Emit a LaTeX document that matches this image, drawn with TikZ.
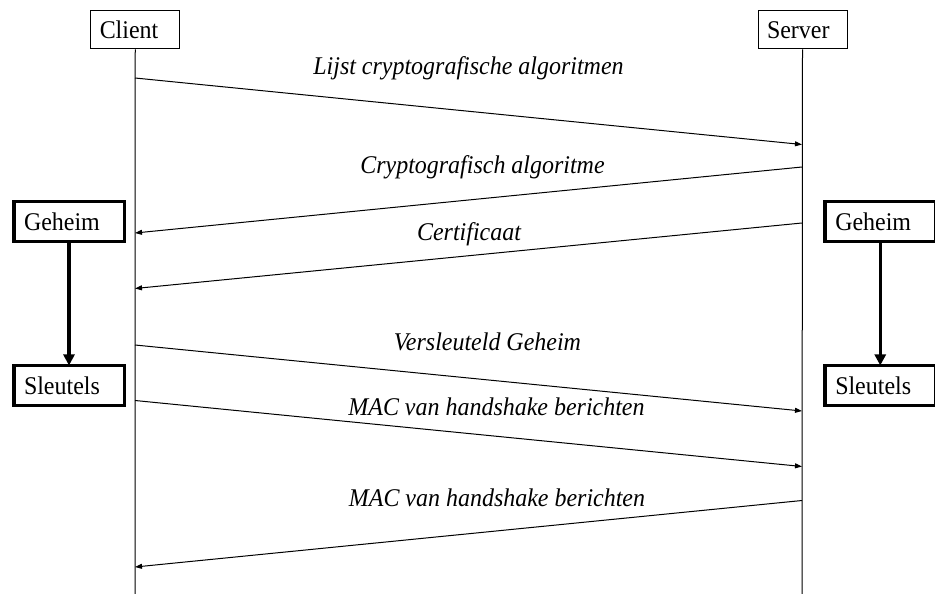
\documentclass[tikz,border=0pt]{standalone}
\usepackage{fontspec}
\setmainfont{Liberation Serif}[FakeStretch=0.94]
\usetikzlibrary{arrows.meta}
\begin{document}
\begin{tikzpicture}[x=1pt,y=-1pt,
  font=\fontsize{25.5}{30}\selectfont,
  actor/.style={draw,line width=1pt,rectangle,minimum width=89pt,minimum height=38pt,
    text width=71pt,align=left,inner xsep=9pt,inner ysep=0pt,text height=22pt,text depth=4pt},
  keybox/.style={draw,line width=3.5pt,rectangle,minimum width=110.5pt,minimum height=40pt,
    text width=90pt,align=left,inner xsep=10pt,inner ysep=0pt,text height=22pt,text depth=4pt},
  life/.style={line width=1pt},
  msg/.style={line width=1pt,-{Triangle[length=7pt,width=5pt]}},
  derive/.style={line width=3.5pt,-{Triangle[length=11pt,width=11pt]}},
  msglabel/.style={anchor=base,font=\fontsize{25.5}{30}\selectfont\itshape}
]
\useasboundingbox (0,0) rectangle (935,594);

% participants
\node[actor] (client) at (135.25,30) {Client};
\node[actor] (server) at (802.5,30) {Server};
\coordinate (clientend) at (135,594);
\coordinate (serverend) at (802,594);
\draw[life] (client.south) -- (clientend);
\draw[life] (server.south) -- (serverend);

% key derivation on both sides
\node[keybox] (gl) at (69,221.5) {Geheim};
\node[keybox] (sl) at (69,385.7) {Sleutels};
\node[keybox] (gr) at (880.25,221.5) {Geheim};
\node[keybox] (sr) at (880.25,385.7) {Sleutels};
\draw[derive] (gl.south) -- ([yshift=-1.5pt]sl.north);
\draw[derive] (gr.south) -- ([yshift=-1.5pt]sr.north);

% points on the lifelines
\coordinate (c1) at (135,78);   \coordinate (s1) at (802,144.5);
\coordinate (s2) at (802,167);  \coordinate (c2) at (135,233);
\coordinate (s3) at (802,223);  \coordinate (c3) at (135,288.5);
\coordinate (c4) at (135,345);  \coordinate (s4) at (802,411);
\coordinate (c5) at (135,400.5);\coordinate (s5) at (802,466.5);
\coordinate (s6) at (802,500.5);\coordinate (c6) at (135,567);

% messages
\draw[msg] (c1) -- (s1);
\draw[msg] (s2) -- (c2);
\draw[msg] (s3) -- (c3);
\draw[msg] (c4) -- (s4);
\draw[msg] (c5) -- (s5);
\draw[msg] (s6) -- (c6);

\node[msglabel] (l1) at (468.5,75) {Lijst cryptografische algoritmen};
\node[msglabel] (l2) at (482.5,173) {Cryptografisch algoritme};
\node[msglabel] (l3) at (469,240) {Certificaat};
\node[msglabel] (l4) at (487.5,350) {Versleuteld Geheim};
\node[msglabel] (l5) at (496.5,415) {MAC van handshake berichten};
\node[msglabel] (l6) at (497,506) {MAC van handshake berichten};
\end{tikzpicture}
\end{document}
